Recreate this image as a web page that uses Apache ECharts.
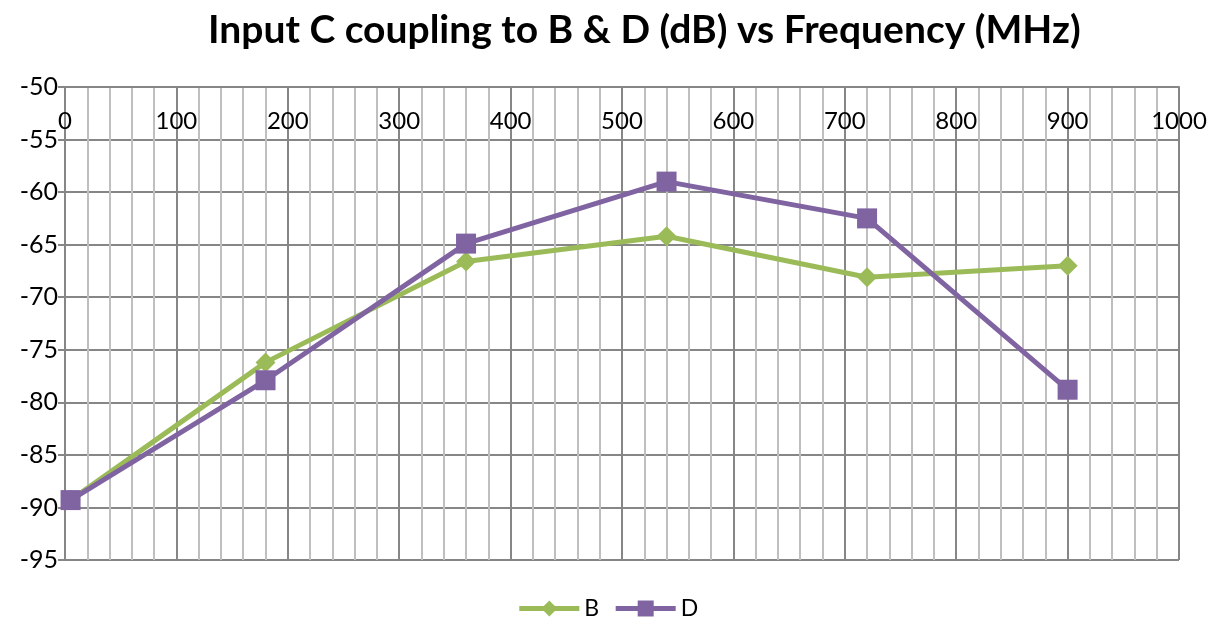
<!DOCTYPE html>
<html>
<head>
<meta charset="utf-8">
<script src="https://cdn.jsdelivr.net/npm/echarts@6/dist/echarts.min.js"></script>
<style>
  html, body { margin: 0; padding: 0; background: #fff; }
  #root { width: 1215px; height: 625px; }
</style>
</head>
<body>
<div id="root"></div>
<script>
// frequency (MHz) of each measurement
var freqs = [5, 180, 360, 540, 720, 900];
// coupling in dB
var seriesB = [-89.3, -76.2, -66.6, -64.2, -68.1, -67.0];
var seriesD = [-89.3, -77.9, -64.9, -59.0, -62.5, -78.8];

var pairs = function (ys) {
  return freqs.map(function (f, i) { return [f, ys[i]]; });
};

var myChart = echarts.init(document.getElementById('root'));

var option = {
  animation: false,
  title: {
    text: 'Input C coupling to B & D (dB) vs Frequency (MHz)',
    left: 203,
    top: 6,
    textStyle: { fontFamily: 'Lato', fontWeight: 'bold', fontSize: 39, color: '#000' }
  },
  legend: {
    bottom: 0,
    left: 'center',
    itemWidth: 60,
    itemHeight: 20,
    itemGap: 14,
    textStyle: { fontFamily: 'Lato', fontSize: 23, color: '#000' },
    lineStyle: { width: 5 },
    data: ['B', 'D']
  },
  grid: { left: 65, right: 36, top: 87, bottom: 65 },
  xAxis: {
    type: 'value',
    position: 'top',
    min: 0,
    max: 1000,
    interval: 100,
    axisLine: { show: true, lineStyle: { color: '#868686', width: 2 } },
    axisTick: { show: false },
    axisLabel: {
      inside: true, margin: 22, fontFamily: 'Lato', fontSize: 24, color: '#000',
      formatter: function (v) { return String(v); }
    },
    splitLine: { show: true, lineStyle: { color: '#868686', width: 2 } },
    minorTick: { show: false, splitNumber: 5 },
    minorSplitLine: { show: true, lineStyle: { color: '#bfbfbf', width: 2 } }
  },
  yAxis: {
    type: 'value',
    min: -95,
    max: -50,
    interval: 5,
    axisLine: { show: true, onZero: false, lineStyle: { color: '#868686', width: 2 } },
    axisTick: { show: true, length: 7, lineStyle: { color: '#868686', width: 2 } },
    axisLabel: { margin: 7, fontFamily: 'Lato', fontSize: 25, color: '#000' },
    splitLine: { show: true, lineStyle: { color: '#868686', width: 2 } }
  },
  series: [
    {
      name: 'B',
      type: 'line',
      data: pairs(seriesB),
      symbol: 'diamond',
      symbolSize: 20,
      itemStyle: { color: '#9bbb59' },
      lineStyle: { color: '#9bbb59', width: 5 }
    },
    {
      name: 'D',
      type: 'line',
      data: pairs(seriesD),
      symbol: 'rect',
      symbolSize: 20,
      itemStyle: { color: '#8064a2' },
      lineStyle: { color: '#8064a2', width: 5 }
    }
  ]
};

myChart.setOption(option);
window.addEventListener('resize', myChart.resize);
</script>
</body>
</html>
